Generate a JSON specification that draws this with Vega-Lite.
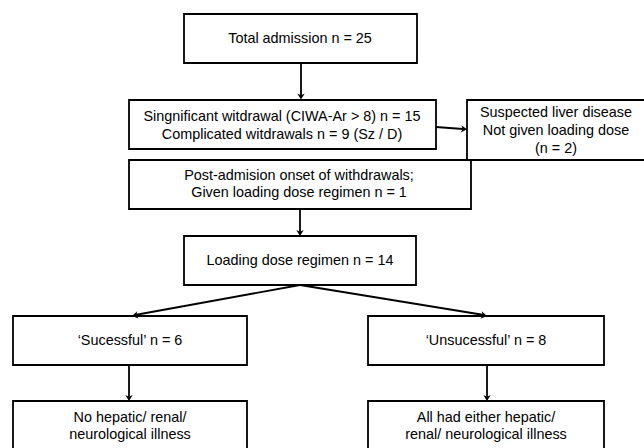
{
  "$schema": "https://vega.github.io/schema/vega-lite/v6.json",
  "width": 644,
  "height": 448,
  "autosize": {"type": "fit", "contains": "padding"},
  "padding": 0,
  "background": "white",
  "config": {"view": {"stroke": null}},
  "layer": [
    {
      "data": {"values": [
        {"id": "A", "x1": 184, "x2": 417, "y1": 14, "y2": 63},
        {"id": "B", "x1": 129, "x2": 436, "y1": 100, "y2": 149},
        {"id": "C", "x1": 467, "x2": 660, "y1": 100, "y2": 160},
        {"id": "D", "x1": 129, "x2": 471, "y1": 160, "y2": 209},
        {"id": "E", "x1": 184, "x2": 416, "y1": 236, "y2": 285},
        {"id": "F", "x1": 13, "x2": 247, "y1": 316, "y2": 365},
        {"id": "G", "x1": 368, "x2": 604, "y1": 316, "y2": 365},
        {"id": "H", "x1": 13, "x2": 247, "y1": 401, "y2": 470},
        {"id": "I", "x1": 368, "x2": 604, "y1": 401, "y2": 470}
      ]},
      "mark": {"type": "rect", "fill": "white", "stroke": "black", "strokeWidth": 1.8, "clip": true},
      "encoding": {
        "x": {"field": "x1", "type": "quantitative", "scale": {"domain": [0, 644], "nice": false, "zero": false}, "axis": null},
        "x2": {"field": "x2"},
        "y": {"field": "y1", "type": "quantitative", "scale": {"domain": [0, 448], "nice": false, "zero": false, "reverse": true}, "axis": null},
        "y2": {"field": "y2"}
      }
    },
    {
      "data": {"values": [
        {"x1": 301, "y1": 63, "x2": 301, "y2": 96},
        {"x1": 436, "y1": 127, "x2": 463, "y2": 129},
        {"x1": 300, "y1": 209, "x2": 300, "y2": 233},
        {"x1": 300, "y1": 285, "x2": 135, "y2": 315},
        {"x1": 300, "y1": 285, "x2": 484, "y2": 315},
        {"x1": 129, "y1": 365, "x2": 129, "y2": 398},
        {"x1": 487, "y1": 365, "x2": 487, "y2": 398}
      ]},
      "mark": {"type": "rule", "stroke": "black", "strokeWidth": 1.8},
      "encoding": {
        "x": {"field": "x1", "type": "quantitative"},
        "x2": {"field": "x2"},
        "y": {"field": "y1", "type": "quantitative"},
        "y2": {"field": "y2"}
      }
    },
    {
      "data": {"values": [
        {"x": 301, "y": 99.5, "angle": 90},
        {"x": 467, "y": 129.3, "angle": 4.2},
        {"x": 300, "y": 236, "angle": 90},
        {"x": 132, "y": 316, "angle": 169.7},
        {"x": 487, "y": 316, "angle": 9.3},
        {"x": 129, "y": 401, "angle": 90},
        {"x": 487, "y": 401, "angle": 90}
      ]},
      "mark": {"type": "point", "shape": "M0,0L-1.6,-1L-1.15,0L-1.6,1Z", "filled": true, "color": "black", "size": 56, "opacity": 1},
      "encoding": {
        "x": {"field": "x", "type": "quantitative"},
        "y": {"field": "y", "type": "quantitative"},
        "angle": {"field": "angle", "type": "quantitative", "scale": null}
      }
    },
    {
      "data": {"values": [
        {"x": 300, "y": 39, "label": "Total admission n = 25"},
        {"x": 282, "y": 117, "label": "Singnificant witdrawal (CIWA-Ar > 8) n = 15"},
        {"x": 282, "y": 135, "label": "Complicated witdrawals n = 9 (Sz / D)"},
        {"x": 556, "y": 113, "label": "Suspected liver disease"},
        {"x": 556, "y": 131, "label": "Not given loading dose"},
        {"x": 556, "y": 149, "label": "(n = 2)"},
        {"x": 299, "y": 176, "label": "Post-admision onset of withdrawals;"},
        {"x": 299, "y": 193, "label": "Given loading dose regimen n = 1"},
        {"x": 300, "y": 261, "label": "Loading dose regimen n = 14"},
        {"x": 130, "y": 341, "label": "‘Sucessful’ n = 6"},
        {"x": 486, "y": 341, "label": "‘Unsucessful’ n = 8"},
        {"x": 130, "y": 418, "label": "No hepatic/ renal/"},
        {"x": 130, "y": 435, "label": "neurological illness"},
        {"x": 486, "y": 418, "label": "All had either hepatic/"},
        {"x": 486, "y": 435, "label": "renal/ neurological illness"}
      ]},
      "mark": {"type": "text", "font": "Liberation Sans", "fontSize": 14.4, "color": "black", "align": "center", "baseline": "middle"},
      "encoding": {
        "x": {"field": "x", "type": "quantitative"},
        "y": {"field": "y", "type": "quantitative"},
        "text": {"field": "label"}
      }
    }
  ]
}
